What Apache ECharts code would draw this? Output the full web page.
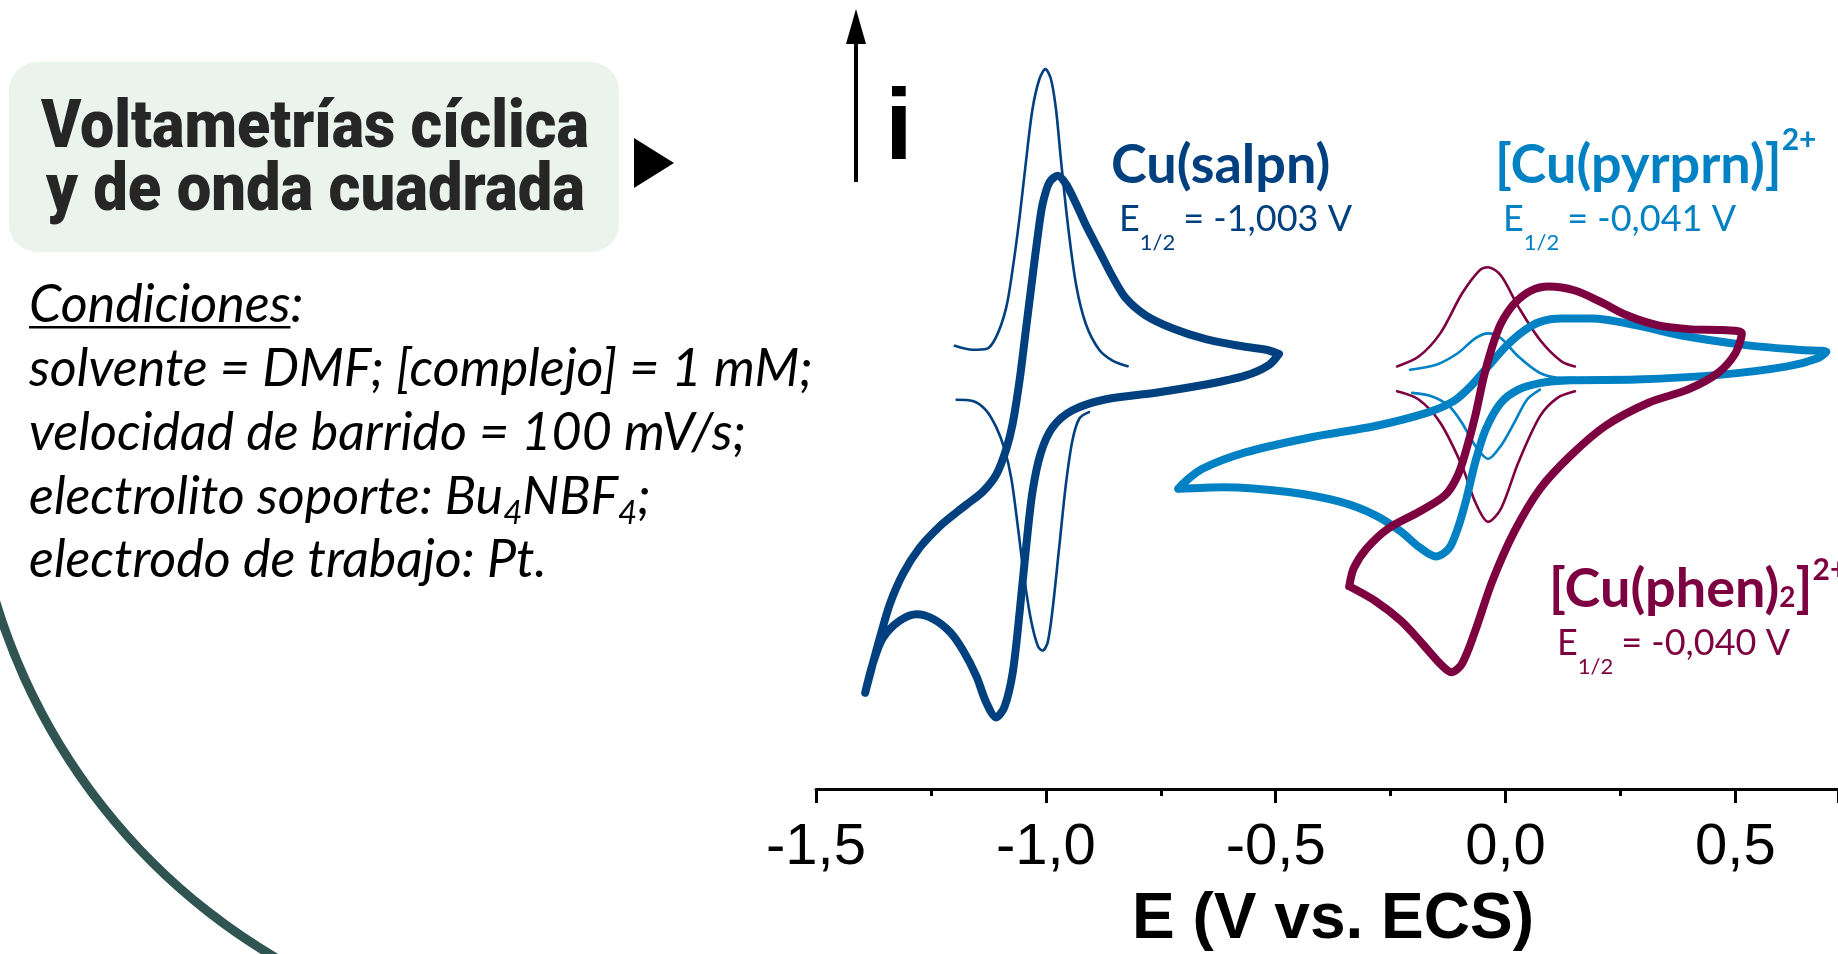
<!DOCTYPE html>
<html><head><meta charset="utf-8">
<script src="https://cdn.jsdelivr.net/npm/echarts@6/dist/echarts.min.js"></script>
<style>html,body{margin:0;padding:0;background:#fff;}#c{width:1838px;height:954px;}</style>
</head><body><div id="c"></div>
<script>
// ---------------- DATA (E in V vs. ECS, i in arbitrary units) ----------------
const xTicks = [-1.5, -1.0, -0.5, 0.0, 0.5];
const xTickLabels = ['-1,5', '-1,0', '-0,5', '0,0', '0,5'];
const xAxisTitle = 'E (V vs. ECS)';

// Cu(salpn): cyclic voltammogram (thick) and square-wave voltammograms (thin)
const salpnCV = [[-0.493,6.40],[-0.521,6.58],[-0.580,6.75],[-0.652,7.03],[-0.725,7.50],[-0.783,8.05],[-0.826,8.78],[-0.855,9.70],[-0.884,10.80],[-0.913,11.90],[-0.934,12.80],[-0.956,13.64],[-0.974,14.00],[-0.992,13.73],[-1.007,12.80],[-1.017,11.53],[-1.029,9.70],[-1.043,7.50],[-1.057,5.30],[-1.072,3.45],[-1.086,2.35],[-1.108,1.25],[-1.137,0.53],[-1.173,-0.03],[-1.194,-0.35],[-1.231,-0.95],[-1.274,-1.85],[-1.310,-2.95],[-1.339,-4.25],[-1.361,-5.70],[-1.379,-7.00],[-1.393,-8.05],[-1.375,-6.72],[-1.354,-5.70],[-1.318,-4.98],[-1.281,-4.70],[-1.245,-4.90],[-1.209,-5.45],[-1.180,-6.25],[-1.151,-7.35],[-1.130,-8.45],[-1.108,-9.10],[-1.090,-8.65],[-1.072,-7.18],[-1.057,-4.60],[-1.043,-1.85],[-1.029,0.53],[-1.011,2.18],[-0.985,3.28],[-0.942,4.00],[-0.869,4.47],[-0.761,4.75],[-0.652,5.10],[-0.566,5.48],[-0.515,5.93],[-0.493,6.40]];
const salpnSWVox = [[-1.198,6.75],[-1.159,6.58],[-1.130,6.61],[-1.108,7.13],[-1.086,8.40],[-1.072,10.05],[-1.057,12.25],[-1.043,14.65],[-1.029,16.85],[-1.014,18.13],[-1.001,18.55],[-0.989,18.13],[-0.978,16.85],[-0.967,14.65],[-0.952,11.90],[-0.934,9.33],[-0.913,7.68],[-0.884,6.58],[-0.855,6.12],[-0.822,5.88]];
const salpnSWVred = [[-1.194,4.45],[-1.159,4.40],[-1.130,4.00],[-1.108,3.28],[-1.090,2.35],[-1.075,1.08],[-1.061,-0.95],[-1.047,-3.15],[-1.032,-4.98],[-1.017,-6.08],[-1.007,-6.25],[-0.996,-5.90],[-0.985,-4.43],[-0.971,-1.85],[-0.956,0.90],[-0.942,2.73],[-0.927,3.65],[-0.906,3.92]];

// [Cu(pyrprn)]2+
const pyrprnCV = [[-0.712,0.65],[-0.613,0.72],[-0.472,0.51],[-0.359,0.09],[-0.283,-0.48],[-0.227,-1.18],[-0.189,-1.82],[-0.151,-2.24],[-0.123,-1.89],[-0.104,-1.04],[-0.085,0.23],[-0.066,1.78],[-0.043,3.19],[-0.010,4.32],[0.028,4.88],[0.075,5.16],[0.141,5.28],[0.283,5.31],[0.471,5.52],[0.613,5.87],[0.679,6.22],[0.698,6.50],[0.641,6.57],[0.519,6.79],[0.377,7.21],[0.283,7.63],[0.188,7.91],[0.122,7.91],[0.075,7.77],[0.037,7.35],[0.000,6.71],[-0.038,5.87],[-0.076,5.02],[-0.113,4.39],[-0.170,3.90],[-0.283,3.33],[-0.425,2.84],[-0.566,2.20],[-0.660,1.50],[-0.698,0.94],[-0.712,0.65]];
const pyrprnSWVox = [[-0.208,5.73],[-0.151,5.94],[-0.104,6.43],[-0.066,7.07],[-0.038,7.28],[-0.010,7.07],[0.028,6.29],[0.075,5.59],[0.122,5.38],[0.151,5.38]];
const pyrprnSWVred = [[-0.203,4.74],[-0.161,4.60],[-0.123,4.18],[-0.095,3.47],[-0.066,2.49],[-0.038,1.92],[-0.010,2.49],[0.019,3.47],[0.047,4.46],[0.075,4.88]];

// [Cu(phen)2]2+
const phenCV = [[-0.340,-3.51],[-0.283,-4.14],[-0.227,-4.99],[-0.180,-5.98],[-0.142,-6.82],[-0.118,-7.17],[-0.095,-6.82],[-0.066,-5.41],[-0.029,-3.30],[0.019,-1.18],[0.075,0.65],[0.141,2.06],[0.217,3.33],[0.311,4.32],[0.396,4.88],[0.462,5.59],[0.500,6.43],[0.514,7.28],[0.471,7.42],[0.405,7.45],[0.330,7.63],[0.264,8.05],[0.207,8.62],[0.151,9.11],[0.094,9.28],[0.056,9.11],[0.019,8.55],[-0.010,7.70],[-0.029,6.71],[-0.047,5.45],[-0.066,3.75],[-0.085,2.35],[-0.104,1.22],[-0.132,0.37],[-0.189,-0.34],[-0.255,-1.04],[-0.302,-1.89],[-0.330,-2.73],[-0.340,-3.51]];
const phenSWVox = [[-0.236,5.87],[-0.189,6.29],[-0.142,7.28],[-0.095,8.97],[-0.057,9.96],[-0.038,10.10],[-0.010,9.75],[0.028,8.41],[0.075,7.00],[0.122,6.08],[0.151,5.87]];
const phenSWVred = [[-0.236,4.81],[-0.189,4.46],[-0.142,3.47],[-0.095,1.64],[-0.066,0.09],[-0.038,-0.76],[-0.010,-0.20],[0.028,1.78],[0.075,3.75],[0.113,4.53],[0.151,4.81]];

// ---------------- STYLE ----------------
const C_SALPN = '#00407F', C_PYR = '#0081C3', C_PHEN = '#7D0040';
const THICK = 8, THIN = 2.6;

const chart = echarts.init(document.getElementById('c'), null, {renderer: 'canvas'});

const mctx = document.createElement('canvas').getContext('2d');
function fontStr(p) { return (p.italic ? 'italic ' : '') + (p.bold ? (p.weight || 'bold') + ' ' : '') + p.size + 'px ' + p.family; }
function measure(text, p) { mctx.font = fontStr(p); return mctx.measureText(text).width; }
const K = 0.30; // baseline -> middle offset (em)
function textEl(x, baseline, text, p, extra) {
  const el = {
    type: 'text', x: x, y: baseline - K * p.size, silent: true, z: 10,
    style: {
      text: text, x: 0, y: 0, fill: p.color || '#000', fontSize: p.size, fontFamily: p.family,
      fontWeight: p.bold ? (p.weight || 'bold') : 'normal', fontStyle: p.italic ? 'italic' : 'normal',
      align: p.align || 'left', verticalAlign: 'middle'
    }
  };
  return Object.assign(el, extra || {});
}
function run(x, baseline, parts) {
  const out = []; let cx = x;
  parts.forEach(p => {
    out.push(textEl(cx, baseline + (p.dy || 0), p.t, p));
    cx += measure(p.t, p) + (p.gap || 0);
  });
  return out;
}

const graphics = [];
graphics.push({type: 'arc', silent: true, z: 0, shape: {cx: 592, cy: 421, r: 623, startAngle: 2.0, endAngle: 2.95},
  style: {stroke: '#2F5451', lineWidth: 9, fill: null}});
graphics.push({type: 'rect', silent: true, z: 1, shape: {x: 9, y: 62, width: 610, height: 190, r: 28}, style: {fill: '#EAF4ED'}});
const titleFont = {size: 66, family: 'Roboto', bold: true, weight: 900, color: '#262626'};
[['Voltametrías cíclica', 41, 150, 548], ['y de onda cuadrada', 46, 213, 539]].forEach(([t, x, b, w]) => {
  const nat = measure(t, titleFont);
  graphics.push(textEl(x, b, t, titleFont, {scaleX: w / nat}));
});
graphics.push({type: 'polygon', silent: true, z: 2, shape: {points: [[634, 138], [674, 163], [634, 188]]}, style: {fill: '#000'}});

// conditions
const cf = {size: 52, family: 'Lato', italic: true, color: '#000'};
const cs = {size: 33, family: 'Lato', italic: true, color: '#000'};
graphics.push(...run(29, 321, [Object.assign({t: 'Condiciones'}, cf), Object.assign({t: ':'}, cf)]));
graphics.push({type: 'rect', silent: true, z: 10, shape: {x: 29, y: 326, width: measure('Condiciones', cf), height: 2.5}, style: {fill: '#000'}});
graphics.push(...run(29, 385, [Object.assign({t: 'solvente = DMF; [complejo] = 1 mM;'}, cf)]));
graphics.push(...run(29, 449, [Object.assign({t: 'velocidad de barrido = 100 mV/s;'}, cf)]));
graphics.push(...run(29, 513, [Object.assign({t: 'electrolito soporte: Bu'}, cf), Object.assign({t: '4', dy: 10}, cs),
  Object.assign({t: 'NBF'}, cf), Object.assign({t: '4', dy: 10}, cs), Object.assign({t: ';'}, cf)]));
graphics.push(...run(29, 576, [Object.assign({t: 'electrodo de trabajo: Pt.'}, cf)]));

// current arrow and "i"
graphics.push({type: 'line', silent: true, z: 10, shape: {x1: 856, y1: 182, x2: 856, y2: 38}, style: {stroke: '#000', lineWidth: 4}});
graphics.push({type: 'polygon', silent: true, z: 10, shape: {points: [[846, 44], [866, 44], [856, 9]]}, style: {fill: '#000'}});
graphics.push(textEl(885, 161, 'i', {size: 100, family: 'Liberation Sans', bold: true, color: '#000'}));

// compound labels
function label(x, base, eBase, color, nameParts, e12) {
  const big = {size: 54, family: 'Lato', bold: true, color: color};
  const small = {size: 30, family: 'Lato', bold: true, color: color};
  const parts = nameParts.map(np => Object.assign({t: np.t, dy: np.dy || 0}, np.kind === 'sup' ? small : (np.kind === 'sub' ? Object.assign({}, small, {size: 28}) : big)));
  graphics.push(...run(x, base, parts));
  const ef = {size: 36, family: 'Lato', color: color};
  const es = {size: 22, family: 'Lato', color: color};
  graphics.push(...run(x + 8, eBase, [Object.assign({t: 'E'}, ef), Object.assign({t: '1/2', dy: 20, gap: 8}, es), Object.assign({t: '= ' + e12}, ef)]));
}
label(1111, 182, 230, C_SALPN, [{t: 'Cu(salpn)'}], '-1,003 V');
label(1495, 182, 230, C_PYR, [{t: '[Cu(pyrprn)]'}, {t: '2+', kind: 'sup', dy: -33}], '-0,041 V');
label(1549, 606, 654, C_PHEN, [{t: '[Cu(phen)'}, {t: '2', kind: 'sub'}, {t: ']'}, {t: '2+', kind: 'sup', dy: -27}], '-0,040 V');

// axis title
graphics.push(textEl(1333, 940, xAxisTitle, {size: 64, family: 'Liberation Sans', bold: true, color: '#000', align: 'center'}));

function line(data, color, width, z) {
  return {type: 'line', data: data, symbol: 'none', smooth: 0.3, z: z, silent: true,
    lineStyle: {color: color, width: width, cap: 'round', join: 'round'}, clip: false};
}

chart.setOption({
  animation: false,
  backgroundColor: '#fff',
  grid: {left: 816, right: 0, top: 0, bottom: 165, containLabel: false},
  xAxis: {
    type: 'value', min: -1.5, max: 0.7232, interval: 0.5,
    axisLine: {show: true, onZero: false, lineStyle: {color: '#000', width: 3}},
    axisTick: {show: true, length: 14, lineStyle: {color: '#000', width: 3}},
    minorTick: {show: true, splitNumber: 2, length: 7, lineStyle: {color: '#000', width: 3}},
    splitLine: {show: false},
    axisLabel: {
      margin: 30, fontSize: 58, fontFamily: 'Liberation Sans', color: '#000', showMaxLabel: false,
      formatter: v => { const k = xTicks.findIndex(t => Math.abs(t - v) < 1e-6); return k >= 0 ? xTickLabels[k] : ''; }
    }
  },
  yAxis: {type: 'value', min: -12.155, max: 21.5, show: false, splitLine: {show: false}},
  series: [
    line(salpnSWVox, C_SALPN, THIN, 2), line(salpnSWVred, C_SALPN, THIN, 2), line(salpnCV, C_SALPN, THICK, 3),
    line(pyrprnSWVox, C_PYR, THIN, 2), line(pyrprnSWVred, C_PYR, THIN, 2),
    line(phenSWVox, C_PHEN, THIN, 2), line(phenSWVred, C_PHEN, THIN, 2),
    line(pyrprnCV, C_PYR, THICK, 3), line(phenCV, C_PHEN, THICK, 4)
  ],
  graphic: graphics
});
</script></body></html>
